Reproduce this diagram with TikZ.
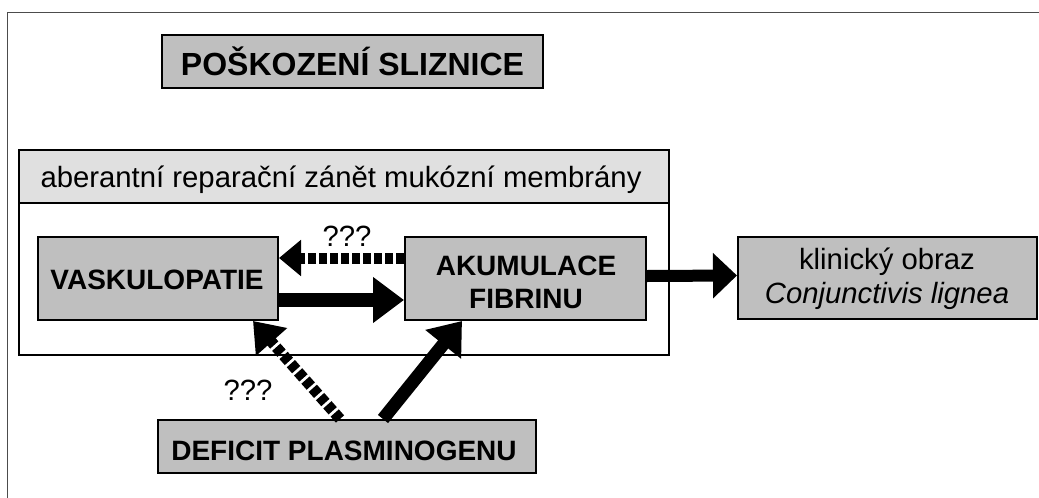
\documentclass[tikz,border=0pt]{standalone}
\usepackage{fontspec}
\setmainfont{Liberation Sans}
\usetikzlibrary{arrows.meta}
\definecolor{boxgray}{gray}{0.75}
\definecolor{hdrgray}{gray}{0.88}
\definecolor{framegray}{gray}{0.3}
\begin{document}
\begin{tikzpicture}[x=1pt,y=-1pt,
  box/.style={draw=black,line width=2pt,fill=boxgray,inner sep=0pt},
  lbl/.style={anchor=base,inner sep=0pt},
  titletxt/.style={font=\fontsize{32}{38}\selectfont\bfseries},
  boldtxt/.style={font=\fontsize{28}{35}\selectfont\bfseries},
  regtxt/.style={font=\fontsize{29.3}{34}\selectfont},
  bigarrow/.style args={#1/#2/#3}{draw=black,line width=#1,
     -{Triangle[length=#2,width=#3]}},
  dasharrow/.style args={#1/#2/#3}{draw=black,line width=#1,
     dash pattern=on 8pt off 3pt,-{Triangle[length=#2,width=#3]}}
]
\useasboundingbox (0,0) rectangle (1039,498);
% outer frame (only top and left visible)
\draw[framegray,line width=1.5pt] (1039,12.5) -| (7.5,498);

% title
\node[box,minimum width=381pt,minimum height=53pt] (title) at (352.5,61.5) {};
\node[lbl,titletxt] (titletext) at (352.5,75) {POŠKOZENÍ SLIZNICE};

% membrane frame
\node[draw=black,line width=2pt,minimum width=650pt,minimum height=205pt,inner sep=0pt]
  (mem) at (344,252.5) {};
\node[draw=black,line width=2pt,fill=hdrgray,minimum width=650pt,minimum height=52.5pt,
  inner sep=0pt,anchor=north] (hdr) at (mem.north) {};
\node[lbl,regtxt] (hdrtxt) at (341,187)
  {aberantní reparační zánět mukózní membrány};

% boxes
\node[box,minimum width=240pt,minimum height=83pt] (vask) at (158,278.5) {};
\node[lbl,boldtxt] (vasktxt) at (157,289) {VASKULOPATIE};

\node[box,minimum width=241pt,minimum height=83pt] (akum) at (525.5,278.5) {};
\node[lbl,boldtxt] (akumtxt1) at (526,275) {AKUMULACE};
\node[lbl,boldtxt] (akumtxt2) at (526,308) {FIBRINU};

\node[box,minimum width=299pt,minimum height=82pt] (klin) at (887.5,278) {};
\node[lbl,regtxt] (klintxt1) at (887,269) {klinický obraz};
\node[lbl,regtxt] (klintxt2) at (887,303) {\itshape Conjunctivis lignea};

\node[box,minimum width=378pt,minimum height=53pt] (def) at (346.5,446.5) {};
\node[lbl,boldtxt] (deftxt) at (344,460) {DEFICIT PLASMINOGENU};

% connectors
\draw[dasharrow=11pt/22pt/35pt] ([yshift=20.5pt]akum.west) -- ([yshift=20.5pt]vask.east);
\draw[bigarrow=14pt/31pt/44pt] ([yshift=-21.5pt]vask.east) -- ([yshift=-21.5pt]akum.west);
\draw[bigarrow=12pt/24pt/44pt] ([yshift=2.5pt]akum.east) -- ([yshift=2.5pt]klin.west);
\draw[dasharrow=11pt/28pt/40pt] ([xshift=-6.5pt]def.north) -- ([xshift=95pt]vask.south);
\draw[bigarrow=13pt/30pt/44pt] ([xshift=36.5pt]def.north) -- ([xshift=-63.5pt]akum.south);

% question marks
\node[lbl,regtxt] (q1) at (347,246) {???};
\node[lbl,regtxt] (q2) at (248,400) {???};
\end{tikzpicture}
\end{document}
